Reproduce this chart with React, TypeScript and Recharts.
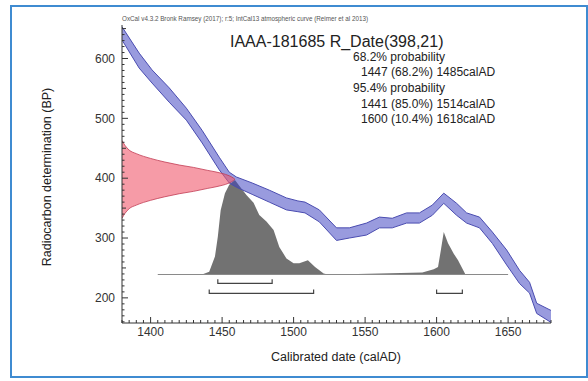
import React from 'react';
import { ComposedChart, Area, Line, XAxis, YAxis } from 'recharts';

// IntCal13 band (BP)
const calYears = [1380, 1392, 1401, 1413, 1425, 1436, 1448, 1455, 1460, 1471, 1483, 1495, 1503, 1508, 1518, 1530, 1539, 1551, 1560, 1569, 1579, 1588, 1597, 1605, 1614, 1621, 1630, 1639, 1649, 1658, 1665, 1670, 1680];
const calUpper = [653, 609, 581, 551, 517, 480, 435, 410, 402, 392, 380, 367, 362, 360, 347, 317, 317, 325, 335, 333, 342, 342, 355, 375, 358, 342, 335, 310, 280, 246, 226, 191, 179];
const calLower = [631, 584, 559, 527, 497, 459, 414, 392, 385, 373, 360, 347, 344, 342, 327, 296, 300, 305, 317, 317, 325, 325, 338, 358, 338, 325, 317, 291, 255, 224, 208, 174, 159];

// measured date R_Date(398,21), drawn sideways from the y axis
const dateYears = [1380, 1382, 1385, 1390, 1400, 1410, 1420, 1430, 1440, 1450, 1455, 1458, 1459];
const dateLow = [333, 341, 349, 355, 363, 369, 374, 378, 383, 388, 392, 396, 398];
const dateHigh = [463, 455, 447, 441, 433, 427, 422, 418, 413, 408, 404, 400, 398];

// calibrated probability (relative to peak)
const probYears = [1405, 1436, 1441, 1445, 1447, 1449, 1452, 1455, 1459, 1462, 1467, 1472, 1476, 1481, 1486, 1490, 1495, 1500, 1504, 1510, 1515, 1521, 1524, 1545, 1560, 1575, 1590, 1598, 1601, 1603, 1605, 1608, 1612, 1615, 1620, 1624, 1650];
const probValues = [0, 0, 0.03, 0.19, 0.4, 0.68, 0.86, 0.95, 1.0, 0.94, 0.84, 0.76, 0.63, 0.56, 0.47, 0.29, 0.17, 0.12, 0.12, 0.15, 0.08, 0.01, 0, 0.005, 0.01, 0.015, 0.02, 0.055, 0.08, 0.26, 0.45, 0.33, 0.22, 0.15, 0.005, 0, 0];
const baselineYears = [1405, 1650];

const range68 = [[1447, 1485]];
const range95 = [[1441, 1514], [1600, 1618]];

const xMajor = [1400, 1450, 1500, 1550, 1600, 1650];
const yMajor = [200, 300, 400, 500, 600];

const X_DOMAIN: [number, number] = [1380, 1680];
const Y_DOMAIN: [number, number] = [158, 656];
const P_DOMAIN: [number, number] = [-0.513, 2.64];

const xTicks: number[] = [];
for (let v = 1380; v <= 1680; v += 5) xTicks.push(v);
const yTicks: number[] = [];
for (let v = 160; v <= 650; v += 10) yTicks.push(v);

const calData = calYears.map((yr, i) => ({ yr, band: [calLower[i], calUpper[i]] }));
const dateData = dateYears.map((yr, i) => ({ yr, band: [dateLow[i], dateHigh[i]] }));
const probData = probYears.map((yr, i) => ({ yr, p: probValues[i] }));
const baseData = baselineYears.map((yr) => ({ yr, p: 0 }));

const bracket = (r: number[], level: number) => [
  { yr: r[0], p: level + 0.042 },
  { yr: r[0], p: level },
  { yr: r[1], p: level },
  { yr: r[1], p: level + 0.042 },
];

const font = '"Liberation Sans", Arial, sans-serif';

const XTick = (props: any) => {
  const { x, y, payload } = props;
  const v = payload.value;
  const major = xMajor.includes(v);
  return (
    <g>
      <line x1={x} x2={x} y1={y} y2={y - (major ? 6 : 3)} stroke="#333" />
      {major && (
        <text x={x} y={y + 12.5} textAnchor="middle" fontSize={12} fontFamily={font} fill="#333">
          {v}
        </text>
      )}
    </g>
  );
};

const YTick = (props: any) => {
  const { x, y, payload } = props;
  const v = payload.value;
  const major = yMajor.includes(v);
  const len = major ? 6 : v % 50 === 0 ? 4 : 2.5;
  return (
    <g>
      <line x1={x} x2={x + len} y1={y} y2={y} stroke="#333" />
      {major && (
        <text x={x - 7} y={y + 4.3} textAnchor="end" fontSize={12} fontFamily={font} fill="#333">
          {v}
        </text>
      )}
    </g>
  );
};

const statStyle: React.CSSProperties = {
  position: 'absolute',
  fontSize: 12,
  lineHeight: '10px',
  color: '#222',
  whiteSpace: 'nowrap',
};

export default function App() {
  return (
    <div style={{ position: 'fixed', left: 0, top: 0, width: 588, height: 381, background: '#fff', fontFamily: font }}>
      <div style={{ position: 'absolute', left: 10, top: 5, width: 578, height: 373, border: '2px solid #3f8bd1', boxSizing: 'border-box' }} />
      <div style={{ position: 'absolute', left: 0, top: 0 }}>
        <ComposedChart width={588} height={381} margin={{ top: 25, right: 37, bottom: 28, left: 0 }}>
          <XAxis
            dataKey="yr"
            type="number"
            domain={X_DOMAIN}
            allowDataOverflow
            ticks={xTicks}
            interval={0}
            tick={<XTick />}
            tickLine={false}
            tickSize={0}
            tickMargin={0}
            height={30}
            axisLine={{ stroke: '#333' }}
          />
          <XAxis
            xAxisId="top"
            dataKey="yr"
            type="number"
            orientation="top"
            domain={X_DOMAIN}
            allowDataOverflow
            height={0}
            tick={false}
            tickLine={false}
            axisLine={{ stroke: '#888' }}
          />
          <YAxis
            type="number"
            domain={Y_DOMAIN}
            allowDataOverflow
            ticks={yTicks}
            interval={0}
            tick={<YTick />}
            tickLine={false}
            tickSize={0}
            tickMargin={0}
            width={122}
            axisLine={{ stroke: '#333' }}
          />
          <YAxis
            yAxisId="right"
            orientation="right"
            type="number"
            domain={Y_DOMAIN}
            width={0}
            tick={false}
            tickLine={false}
            axisLine={{ stroke: '#888' }}
          />
          <YAxis yAxisId="prob" type="number" domain={P_DOMAIN} allowDataOverflow hide />

          <Line
            yAxisId="prob"
            data={baseData}
            dataKey="p"
            stroke="#8a8a8a"
            strokeWidth={1}
            dot={false}
            activeDot={false}
            isAnimationActive={false}
          />
          <Area
            yAxisId="prob"
            data={probData}
            dataKey="p"
            type="linear"
            baseValue={0}
            fill="#727272"
            fillOpacity={1}
            stroke="none"
            dot={false}
            activeDot={false}
            isAnimationActive={false}
          />
          <Area
            data={calData}
            dataKey="band"
            type="linear"
            fill="#3b3fbf"
            fillOpacity={0.52}
            stroke="#4a4cb0"
            strokeWidth={1}
            dot={false}
            activeDot={false}
            isAnimationActive={false}
          />
          <Area
            data={dateData}
            dataKey="band"
            type="monotone"
            fill="#f0586c"
            fillOpacity={0.6}
            stroke="#c23a52"
            strokeWidth={0.8}
            dot={false}
            activeDot={false}
            isAnimationActive={false}
          />
          {range68.map((r, i) => (
            <Line
              key={'r68' + i}
              yAxisId="prob"
              data={bracket(r, -0.093)}
              dataKey="p"
              type="linear"
              stroke="#444"
              strokeWidth={1.2}
              dot={false}
              activeDot={false}
              isAnimationActive={false}
            />
          ))}
          {range95.map((r, i) => (
            <Line
              key={'r95' + i}
              yAxisId="prob"
              data={bracket(r, -0.2)}
              dataKey="p"
              type="linear"
              stroke="#444"
              strokeWidth={1.2}
              dot={false}
              activeDot={false}
              isAnimationActive={false}
            />
          ))}
        </ComposedChart>
      </div>

      <div style={{ position: 'absolute', left: 122, top: 15, fontSize: 6.3, lineHeight: '8px', color: '#555', whiteSpace: 'nowrap' }}>
        OxCal v4.3.2 Bronk Ramsey (2017); r:5; IntCal13 atmospheric curve (Reimer et al 2013)
      </div>
      <div style={{ position: 'absolute', left: 230, top: 34, fontSize: 16, lineHeight: '15px', color: '#222', whiteSpace: 'nowrap' }}>
        IAAA-181685 R_Date(398,21)
      </div>
      <div style={{ ...statStyle, left: 353, top: 52 }}>68.2% probability</div>
      <div style={{ ...statStyle, left: 361, top: 67 }}>1447 (68.2%) 1485calAD</div>
      <div style={{ ...statStyle, left: 353, top: 83 }}>95.4% probability</div>
      <div style={{ ...statStyle, left: 361, top: 99 }}>1441 (85.0%) 1514calAD</div>
      <div style={{ ...statStyle, left: 361, top: 114 }}>1600 (10.4%) 1618calAD</div>

      <div
        style={{
          position: 'absolute',
          left: 47 - 120,
          top: 177 - 8,
          width: 240,
          height: 16,
          lineHeight: '16px',
          textAlign: 'center',
          fontSize: 12.5,
          color: '#222',
          transform: 'rotate(-90deg)',
          whiteSpace: 'nowrap',
        }}
      >
        Radiocarbon determination (BP)
      </div>
      <div
        style={{
          position: 'absolute',
          left: 336 - 120,
          top: 349,
          width: 240,
          lineHeight: '16px',
          textAlign: 'center',
          fontSize: 12.5,
          color: '#222',
          whiteSpace: 'nowrap',
        }}
      >
        Calibrated date (calAD)
      </div>
    </div>
  );
}
